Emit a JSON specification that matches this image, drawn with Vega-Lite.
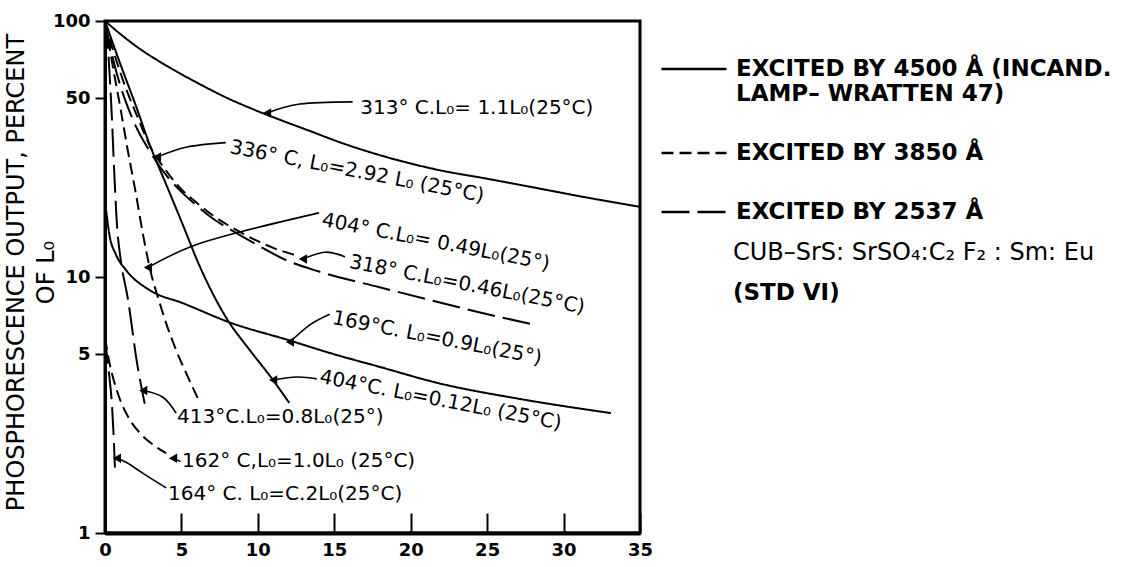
{
  "$schema": "https://vega.github.io/schema/vega-lite/v6.json",
  "width": 535,
  "height": 512,
  "autosize": {"type": "none"},
  "padding": {"left": 105, "top": 21, "right": 486, "bottom": 34},
  "background": "white",
  "config": {
    "view": {"stroke": "black", "strokeWidth": 3},
    "font": "DejaVu Sans",
    "axis": {"grid": false, "domainColor": "black", "tickColor": "black", "labelColor": "black", "titleColor": "black"}
  },
  "datasets": {
    "curves": [
      {"curve": "313", "exc": "4500", "x": 0, "y": 100}, {"curve": "313", "exc": "4500", "x": 1, "y": 89}, {"curve": "313", "exc": "4500", "x": 2, "y": 80}, {"curve": "313", "exc": "4500", "x": 4, "y": 67}, {"curve": "313", "exc": "4500", "x": 6, "y": 57.5}, {"curve": "313", "exc": "4500", "x": 8, "y": 50}, {"curve": "313", "exc": "4500", "x": 9.5, "y": 45.7}, {"curve": "313", "exc": "4500", "x": 11.5, "y": 41}, {"curve": "313", "exc": "4500", "x": 13.5, "y": 37}, {"curve": "313", "exc": "4500", "x": 15.3, "y": 33.7}, {"curve": "313", "exc": "4500", "x": 18.6, "y": 29.2}, {"curve": "313", "exc": "4500", "x": 21.8, "y": 26.2}, {"curve": "313", "exc": "4500", "x": 25, "y": 24.2}, {"curve": "313", "exc": "4500", "x": 28, "y": 22.4}, {"curve": "313", "exc": "4500", "x": 31.4, "y": 20.5}, {"curve": "313", "exc": "4500", "x": 35, "y": 18.8},
      {"curve": "169", "exc": "4500", "x": 0, "y": 20}, {"curve": "169", "exc": "4500", "x": 0.3, "y": 14.5}, {"curve": "169", "exc": "4500", "x": 0.7, "y": 12.3}, {"curve": "169", "exc": "4500", "x": 1.4, "y": 10.6}, {"curve": "169", "exc": "4500", "x": 2.9, "y": 8.9}, {"curve": "169", "exc": "4500", "x": 5.1, "y": 7.9}, {"curve": "169", "exc": "4500", "x": 8.3, "y": 6.6}, {"curve": "169", "exc": "4500", "x": 12, "y": 5.67}, {"curve": "169", "exc": "4500", "x": 14.7, "y": 5.05}, {"curve": "169", "exc": "4500", "x": 18, "y": 4.45}, {"curve": "169", "exc": "4500", "x": 21.8, "y": 3.85}, {"curve": "169", "exc": "4500", "x": 27, "y": 3.35}, {"curve": "169", "exc": "4500", "x": 33.1, "y": 2.94},
      {"curve": "404a", "exc": "4500", "x": 0, "y": 100}, {"curve": "404a", "exc": "4500", "x": 1, "y": 68}, {"curve": "404a", "exc": "4500", "x": 2, "y": 47}, {"curve": "404a", "exc": "4500", "x": 2.93, "y": 32.8}, {"curve": "404a", "exc": "4500", "x": 4, "y": 23}, {"curve": "404a", "exc": "4500", "x": 5, "y": 16.5}, {"curve": "404a", "exc": "4500", "x": 6.2, "y": 11}, {"curve": "404a", "exc": "4500", "x": 7.95, "y": 6.9}, {"curve": "404a", "exc": "4500", "x": 9.45, "y": 5.2}, {"curve": "404a", "exc": "4500", "x": 10.8, "y": 4.1}, {"curve": "404a", "exc": "4500", "x": 12.06, "y": 3.22},
      {"curve": "336", "exc": "3850", "x": 0, "y": 100}, {"curve": "336", "exc": "3850", "x": 0.5, "y": 78}, {"curve": "336", "exc": "3850", "x": 1, "y": 63}, {"curve": "336", "exc": "3850", "x": 1.5, "y": 52}, {"curve": "336", "exc": "3850", "x": 2, "y": 44}, {"curve": "336", "exc": "3850", "x": 3, "y": 32}, {"curve": "336", "exc": "3850", "x": 4, "y": 26}, {"curve": "336", "exc": "3850", "x": 5, "y": 22}, {"curve": "336", "exc": "3850", "x": 6, "y": 19.5}, {"curve": "336", "exc": "3850", "x": 7, "y": 17.5}, {"curve": "336", "exc": "3850", "x": 8, "y": 16}, {"curve": "336", "exc": "3850", "x": 9, "y": 14.8}, {"curve": "336", "exc": "3850", "x": 10, "y": 13.8}, {"curve": "336", "exc": "3850", "x": 11, "y": 13}, {"curve": "336", "exc": "3850", "x": 12.4, "y": 12.2},
      {"curve": "404b", "exc": "3850", "x": 0, "y": 100}, {"curve": "404b", "exc": "3850", "x": 0.5, "y": 67}, {"curve": "404b", "exc": "3850", "x": 1, "y": 46}, {"curve": "404b", "exc": "3850", "x": 1.5, "y": 31}, {"curve": "404b", "exc": "3850", "x": 2, "y": 21.5}, {"curve": "404b", "exc": "3850", "x": 2.5, "y": 14.5}, {"curve": "404b", "exc": "3850", "x": 3, "y": 10.4}, {"curve": "404b", "exc": "3850", "x": 3.5, "y": 8.2}, {"curve": "404b", "exc": "3850", "x": 4, "y": 6.6}, {"curve": "404b", "exc": "3850", "x": 4.7, "y": 5.1}, {"curve": "404b", "exc": "3850", "x": 5.4, "y": 4.1}, {"curve": "404b", "exc": "3850", "x": 6.06, "y": 3.37},
      {"curve": "162", "exc": "3850", "x": 0, "y": 5.8}, {"curve": "162", "exc": "3850", "x": 0.3, "y": 4.6}, {"curve": "162", "exc": "3850", "x": 0.6, "y": 3.9}, {"curve": "162", "exc": "3850", "x": 1, "y": 3.3}, {"curve": "162", "exc": "3850", "x": 1.5, "y": 2.85}, {"curve": "162", "exc": "3850", "x": 2.3, "y": 2.45}, {"curve": "162", "exc": "3850", "x": 3.2, "y": 2.2}, {"curve": "162", "exc": "3850", "x": 4, "y": 2.05},
      {"curve": "318", "exc": "2537", "x": 0, "y": 100}, {"curve": "318", "exc": "2537", "x": 0.5, "y": 72}, {"curve": "318", "exc": "2537", "x": 1, "y": 56}, {"curve": "318", "exc": "2537", "x": 1.5, "y": 46}, {"curve": "318", "exc": "2537", "x": 2, "y": 39}, {"curve": "318", "exc": "2537", "x": 3, "y": 30.5}, {"curve": "318", "exc": "2537", "x": 4, "y": 25}, {"curve": "318", "exc": "2537", "x": 5, "y": 21.5}, {"curve": "318", "exc": "2537", "x": 6, "y": 19}, {"curve": "318", "exc": "2537", "x": 7, "y": 17}, {"curve": "318", "exc": "2537", "x": 8.3, "y": 15.2}, {"curve": "318", "exc": "2537", "x": 10, "y": 13.3}, {"curve": "318", "exc": "2537", "x": 11.9, "y": 11.6}, {"curve": "318", "exc": "2537", "x": 14, "y": 10.5}, {"curve": "318", "exc": "2537", "x": 17.9, "y": 9.14}, {"curve": "318", "exc": "2537", "x": 21, "y": 8.2}, {"curve": "318", "exc": "2537", "x": 24.4, "y": 7.3}, {"curve": "318", "exc": "2537", "x": 27.9, "y": 6.55},
      {"curve": "413", "exc": "2537", "x": 0, "y": 100}, {"curve": "413", "exc": "2537", "x": 0.15, "y": 85}, {"curve": "413", "exc": "2537", "x": 0.3, "y": 62}, {"curve": "413", "exc": "2537", "x": 0.45, "y": 42}, {"curve": "413", "exc": "2537", "x": 0.6, "y": 26}, {"curve": "413", "exc": "2537", "x": 0.8, "y": 15.5}, {"curve": "413", "exc": "2537", "x": 1, "y": 12}, {"curve": "413", "exc": "2537", "x": 1.5, "y": 8.2}, {"curve": "413", "exc": "2537", "x": 2.1, "y": 4.6}, {"curve": "413", "exc": "2537", "x": 2.6, "y": 3.2},
      {"curve": "164", "exc": "2537", "x": 0, "y": 5.9}, {"curve": "164", "exc": "2537", "x": 0.15, "y": 4.8}, {"curve": "164", "exc": "2537", "x": 0.3, "y": 4.0}, {"curve": "164", "exc": "2537", "x": 0.45, "y": 3.2}, {"curve": "164", "exc": "2537", "x": 0.55, "y": 2.5}, {"curve": "164", "exc": "2537", "x": 0.65, "y": 1.8}
    ],
    "arrows": [
      {"id": "a313", "seq": 0, "x": 10.6, "y": 43.7}, {"id": "a313", "seq": 1, "x": 12.75, "y": 47.4}, {"id": "a313", "seq": 2, "x": 16.2, "y": 48.3},
      {"id": "a336", "seq": 0, "x": 3.4, "y": 29.4}, {"id": "a336", "seq": 1, "x": 5.36, "y": 32.2}, {"id": "a336", "seq": 2, "x": 7.9, "y": 33.5},
      {"id": "a404b", "seq": 0, "x": 2.81, "y": 10.9}, {"id": "a404b", "seq": 1, "x": 5.56, "y": 13.1}, {"id": "a404b", "seq": 2, "x": 8.83, "y": 15.0}, {"id": "a404b", "seq": 3, "x": 14.0, "y": 17.8},
      {"id": "a318", "seq": 0, "x": 12.95, "y": 11.75}, {"id": "a318", "seq": 1, "x": 14.39, "y": 12.5}, {"id": "a318", "seq": 2, "x": 15.7, "y": 12.0},
      {"id": "a169", "seq": 0, "x": 12.1, "y": 5.57}, {"id": "a169", "seq": 1, "x": 13.4, "y": 6.5}, {"id": "a169", "seq": 2, "x": 14.7, "y": 7.15},
      {"id": "a404a", "seq": 0, "x": 11.0, "y": 3.96}, {"id": "a404a", "seq": 1, "x": 12.56, "y": 4.07}, {"id": "a404a", "seq": 2, "x": 13.85, "y": 4.0},
      {"id": "a413", "seq": 0, "x": 2.5, "y": 3.6}, {"id": "a413", "seq": 1, "x": 3.79, "y": 3.39}, {"id": "a413", "seq": 2, "x": 4.65, "y": 2.94},
      {"id": "a162", "seq": 0, "x": 4.45, "y": 1.96}, {"id": "a162", "seq": 1, "x": 4.95, "y": 1.9},
      {"id": "a164", "seq": 0, "x": 0.78, "y": 1.96}, {"id": "a164", "seq": 1, "x": 1.44, "y": 1.88}, {"id": "a164", "seq": 2, "x": 2.49, "y": 1.71}, {"id": "a164", "seq": 3, "x": 4.0, "y": 1.5}
    ],
    "flatLabels": [
      {"label": "313° C.L₀= 1.1L₀(25°C)", "x": 16.7, "y": 45.7},
      {"label": "413°C.L₀=0.8L₀(25°)", "x": 4.71, "y": 2.84},
      {"label": "162° C,L₀=1.0L₀ (25°C)", "x": 5.04, "y": 1.91},
      {"label": "164° C. L₀=C.2L₀(25°C)", "x": 4.12, "y": 1.42}
    ],
    "tiltLabels": [
      {"label": "336° C, L₀=2.92 L₀ (25°C)", "x": 8.18, "y": 32.2},
      {"label": "404° C.L₀= 0.49L₀(25°)", "x": 14.2, "y": 16.7},
      {"label": "318° C.L₀=0.46L₀(25°C)", "x": 16.0, "y": 11.45},
      {"label": "169°C. L₀=0.9L₀(25°)", "x": 14.9, "y": 6.92},
      {"label": "404°C. L₀=0.12L₀ (25°C)", "x": 14.06, "y": 4.07}
    ],
    "notes": [
      {"note": "CUB–SrS: SrSO₄:C₂ F₂ : Sm: Eu", "x": 41.08, "y": 12.41}
    ],
    "notes2": [
      {"note": "(STD VI)", "x": 41.08, "y": 8.66}
    ]
  },
  "encoding": {
    "x": {
      "field": "x", "type": "quantitative",
      "scale": {"domain": [0, 35], "nice": false, "zero": false},
      "axis": {"values": [0, 5, 10, 15, 20, 25, 30, 35], "title": null, "labelFontSize": 18, "labelFontWeight": "bold", "tickSize": -20, "tickWidth": 2, "domainWidth": 4, "labelPadding": 28, "labelFlush": false}
    },
    "y": {
      "field": "y", "type": "quantitative",
      "scale": {"type": "log", "domain": [1, 100], "nice": false},
      "axis": {"values": [1, 5, 10, 50, 100], "format": "d", "labelFontSize": 18, "labelFontWeight": "bold", "tickSize": 10, "tickWidth": 2, "domainWidth": 3, "labelPadding": 5,
        "title": ["PHOSPHORESCENCE OUTPUT, PERCENT", "OF L₀"], "titleFontSize": 24, "titleFontWeight": "normal", "titleLineHeight": 30, "titleAngle": -90, "titleAlign": "center", "titleBaseline": "top", "titleX": -101, "titleY": 251}
    }
  },
  "layer": [
    {
      "data": {"name": "curves"},
      "mark": {"type": "line", "interpolate": "monotone", "strokeWidth": 2, "color": "black"},
      "encoding": {
        "detail": {"field": "curve", "type": "nominal"},
        "strokeDash": {
          "field": "exc", "type": "nominal",
          "scale": {"domain": ["4500", "3850", "2537"], "range": [[1, 0], [12, 6], [28, 8]]},
          "legend": {
            "orient": "none", "legendX": 555, "legendY": 14, "title": null, "padding": 0,
            "symbolType": "stroke", "symbolSize": 4225, "symbolStrokeWidth": 2.5, "symbolStrokeColor": "black",
            "labelFont": "DejaVu Sans", "labelFontSize": 23, "labelFontWeight": "bold", "labelColor": "black", "labelOffset": 8, "labelLimit": 600, "rowPadding": 13,
            "labelExpr": "datum.value == '4500' ? ['EXCITED BY 4500 Å (INCAND.', 'LAMP– WRATTEN 47)'] : datum.value == '3850' ? 'EXCITED BY 3850 Å' : 'EXCITED BY 2537 Å'"
          }
        }
      }
    },
    {
      "data": {"name": "arrows"},
      "mark": {"type": "line", "interpolate": "cardinal", "strokeWidth": 1.6, "color": "black"},
      "encoding": {
        "detail": {"field": "id", "type": "nominal"},
        "order": {"field": "seq", "type": "quantitative"}
      }
    },
    {
      "data": {"name": "arrows"},
      "transform": [{"filter": "datum.seq == 0"}],
      "mark": {"type": "point", "shape": "triangle-left", "filled": true, "size": 90, "color": "black", "opacity": 1}
    },
    {
      "data": {"name": "flatLabels"},
      "mark": {"type": "text", "align": "left", "baseline": "middle", "fontSize": 20, "font": "DejaVu Sans", "color": "black"},
      "encoding": {"text": {"field": "label"}}
    },
    {
      "data": {"name": "tiltLabels"},
      "mark": {"type": "text", "align": "left", "baseline": "middle", "angle": 11, "fontSize": 20, "font": "DejaVu Sans", "color": "black"},
      "encoding": {"text": {"field": "label"}}
    },
    {
      "data": {"name": "notes"},
      "mark": {"type": "text", "align": "left", "baseline": "middle", "fontSize": 24, "font": "DejaVu Sans", "color": "black"},
      "encoding": {"text": {"field": "note"}}
    },
    {
      "data": {"name": "notes2"},
      "mark": {"type": "text", "align": "left", "baseline": "middle", "fontSize": 23, "fontWeight": "bold", "font": "DejaVu Sans", "color": "black"},
      "encoding": {"text": {"field": "note"}}
    }
  ]
}
